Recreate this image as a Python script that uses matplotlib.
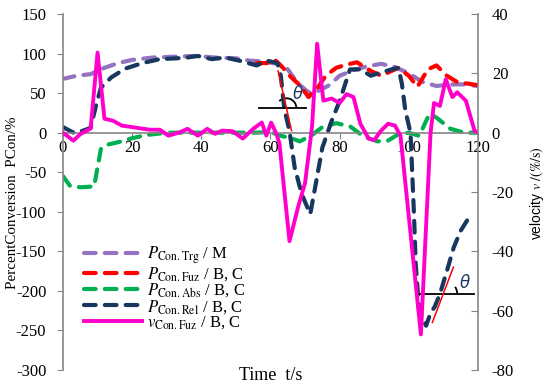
import matplotlib
matplotlib.use('Agg')
import matplotlib.pyplot as plt
from matplotlib.patches import Arc

plt.rcParams['font.family'] = ['Liberation Serif', 'DejaVu Serif']
plt.rcParams['mathtext.fontset'] = 'stix'
plt.rcParams['axes.unicode_minus'] = False

# P_Con.Trg / M
t_trg = [0, 4, 8, 12, 16, 20, 26, 32, 38, 44, 50, 54, 58, 62, 65, 68, 71, 74, 77, 80,
         84, 88, 92, 96, 100, 104, 108, 112, 116, 120]
p_trg = [68, 72, 74, 82, 88, 92, 95, 96, 97, 95, 94, 91, 90, 87, 80, 62, 51, 53, 60, 72,
         79, 84, 87, 83, 75, 64, 59, 61, 61, 59]

# P_Con.Fuz / B, C
t_fuz = [56, 59, 61, 63, 66, 68.5, 71, 73.5, 76, 79, 82, 85, 89, 92, 95, 97, 100, 102.5,
         105.5, 108, 111, 114, 117, 120]
p_fuz = [88, 88, 93, 85, 70, 60, 45, 56, 72, 82, 86, 89, 78, 72, 78, 82, 72, 58,
         80, 85, 72, 64, 62, 60]

# P_Con.Abs / B, C
t_abs = [0, 2, 5, 9, 11, 13, 16, 20, 24, 28, 32, 40, 50, 56, 60, 63, 66, 68.5, 72, 75,
         79, 83, 87, 91, 94, 97, 100, 103, 106, 108, 112, 116, 120]
p_abs = [-55, -67, -69, -68, -20, -15, -12, -7, -3, -1, 0, 0, 0, 0, 1, -4, -7, -11, -3, 7,
         12, 8, -5, -11, -10, -2, 0, -4, 24, 19, 5, 0, 0]

# P_Con.Rel / B, C
t_rel = [0, 3.5, 8, 9.7, 11, 14, 18, 23, 28, 33, 36, 39, 43, 47, 51, 56, 59, 62, 63, 64,
         65.5, 67, 69, 71.5, 73.3, 75, 77.7, 80, 83, 86, 89, 92, 95, 97, 98, 99, 100.5,
         101.5, 102, 103, 105, 106.3, 107.5, 109, 111, 113, 115, 118]
p_rel = [7, -1, 6, 37, 57, 70, 81, 88, 93, 94, 95, 97, 93, 95, 91, 85, 91, 88, 72, 30,
         2, -44, -77, -103, -60, -19, 15, 40, 80, 80, 72, 76, 80, 82, 62, 28, 0,
         -103, -166, -225, -244, -228, -220, -204, -175, -145, -124, -103]

# v_Con.Fuz / B, C  (right axis)
t_vel = [0, 3, 5, 8, 10, 12, 14.5, 17, 21, 25, 28, 30.5, 33.5, 36, 39, 41.7, 44, 46, 49,
         52, 55, 57.5, 58.8, 60.2, 61.7, 62.6, 65.5, 68, 70, 72, 73.5, 75.3, 77.7, 80, 82,
         84, 86, 88.4, 90, 92, 94, 96, 97.6, 103.5, 106.3, 107.3, 109, 110.7, 112.6, 114,
         116.5, 119, 120]
v_vel = [0, -2.7, -0.5, 1.4, 27, 4.7, 4, 2.4, 1.7, 1, 1, -1, 0, 1.3, -1, 1.3, -0.4, 0.7, 0.5,
         -2, 1.3, 3.4, -1, 3.4, -0.3, -3.7, -36.6, -25, -17, 1.7, 30, 10.8, 11.5, 10, 13,
         12, 3, -2, -2.5, 0.7, 3, 2.4, -1, -68, 0, 10, 9, 18, 12, 13.6,
         10.8, 0.7, 0]

labels = [r'$P_{\mathrm{Con.Trg}}$ / M', r'$P_{\mathrm{Con.Fuz}}$ / B, C',
          r'$P_{\mathrm{Con.Abs}}$ / B, C', r'$P_{\mathrm{Con.Rel}}$ / B, C',
          r'$v_{\mathrm{Con.Fuz}}$ / B, C']

grey = '#868686'
fig = plt.figure(figsize=(5.5, 3.89), dpi=100)
ax = fig.add_axes([0.1145, 0.0488, 0.7545, 0.9152])
ax2 = ax.twinx()

dash = dict(lw=3, dashes=(2.8, 2.2), dash_capstyle='round')
l1, = ax.plot(t_trg, p_trg, color='#9473C2', **dash)
l2, = ax.plot(t_fuz, p_fuz, color='#FF0000', **dash)
l3, = ax.plot(t_abs, p_abs, color='#00B050', **dash)
l4, = ax.plot(t_rel, p_rel, color='#17375E', **dash)
l5, = ax2.plot(t_vel, v_vel, color='#FF00CC', lw=2.8)

ax.set_xlim(0, 120)
ax.set_ylim(-300, 150)
ax2.set_ylim(-80, 40)
ax.set_xticks(range(0, 121, 20))
ax.set_yticks(range(-300, 151, 50))
ax2.set_yticks(range(-80, 41, 20))

for s in ['top', 'right']:
    ax.spines[s].set_visible(False)
for s in ['top', 'left', 'bottom']:
    ax2.spines[s].set_visible(False)
ax.spines['bottom'].set_position(('data', 0))
ax.spines['left'].set_color(grey)
ax.spines['bottom'].set_color(grey)
ax2.spines['right'].set_color(grey)
for sp in [ax.spines['left'], ax.spines['bottom'], ax2.spines['right']]:
    sp.set_linewidth(1.2)

ax.tick_params(axis='both', direction='out', length=4, color=grey, labelsize=12)
ax.tick_params(axis='y', pad=8)
ax.tick_params(axis='x', pad=1)
ax2.tick_params(axis='y', direction='in', length=5, color=grey, labelsize=12, pad=10)

# tangent annotations
ax.plot([56.8, 70.2], [31, 31], color='black', lw=1.3)
ax.plot([62.2, 66.1], [78, 2.5], color='red', lw=1.1)
ax.add_patch(Arc((64.6, 31), 5.8, 25, theta1=0, theta2=103, color='black', lw=1.3))
ax.text(67.8, 49, 'θ', color='#1F3864', fontsize=12, ha='center', va='center',
        family=['DejaVu Sans'], style='italic')
ax.plot([102.5, 119], [-204, -204], color='black', lw=1.3)
ax.plot([106.8, 112.9], [-240, -170], color='red', lw=1.1)
ax.add_patch(Arc((109.9, -204), 8.2, 35, theta1=0, theta2=69, color='black', lw=1.3))
ax.text(116.2, -190, 'θ', color='#1F3864', fontsize=12, ha='center', va='center',
        family=['DejaVu Sans'], style='italic')

fig.text(13 / 550, 1 - 203 / 389, 'PercentConversion  PCon/%', rotation=90,
         ha='center', va='center', fontsize=10.8)
fig.text(537 / 550, 1 - 193 / 389, r'velocity $v\ \mathrm{/(\%/s)}$', rotation=90,
         ha='center', va='center', fontsize=10, family=['Liberation Sans', 'DejaVu Sans'])
ax.text(0.5, -0.014, 'Time  t/s', transform=ax.transAxes, ha='center', va='center',
        fontsize=13)

ax2.legend([l1, l2, l3, l4, l5], labels, loc='upper left', bbox_to_anchor=(0.051, 0.352),
           frameon=False, fontsize=12, handlelength=3.5, handletextpad=0.3,
           labelspacing=-0.08, borderpad=0, borderaxespad=0)

fig.savefig('out.png', dpi=100)
